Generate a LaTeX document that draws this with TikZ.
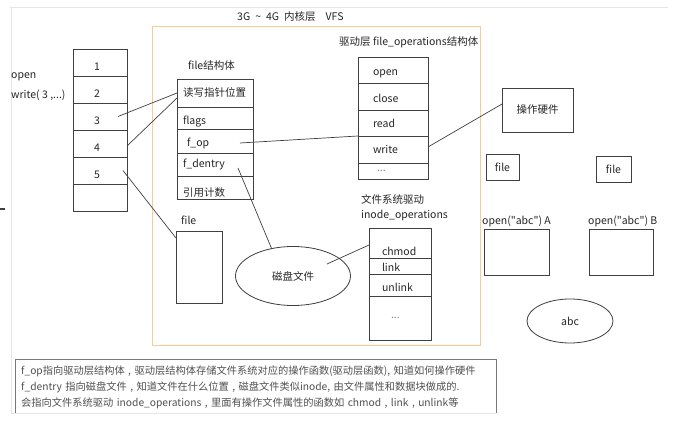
\documentclass[tikz,border=0pt]{standalone}
\usepackage{fontspec}
\newfontfamily\cjkf{Noto Sans CJK SC}
\usetikzlibrary{shapes.geometric}
\definecolor{linec}{HTML}{404040}
\definecolor{txtc}{HTML}{262626}
\definecolor{orng}{HTML}{FFC896}
\definecolor{framec}{HTML}{E6E6E6}
\definecolor{notec}{HTML}{505050}
\newcommand\lowr[2]{\raisebox{-#1}[\height][\depth]{#2}}
\begin{document}
\begin{tikzpicture}[x=1pt,y=-1pt,
  font=\cjkf\fontsize{10.5}{12}\selectfont, text=txtc,
  box/.style={draw=linec, line width=0.8pt, inner sep=0pt, outer sep=0pt},
  fdcell/.style={box, anchor=north west, minimum width=54pt, minimum height=27pt, align=center},
  fscell/.style={box, anchor=north west, inner xsep=6pt, text width=64pt, align=left},
  focell/.style={box, anchor=north west, inner xsep=15pt, text width=40pt, align=left},
  incell/.style={box, anchor=north west, inner xsep=13pt, text width=36pt, align=left},
  plainbox/.style={box, anchor=north west},
  oval/.style={box, ellipse},
  lbl/.style={anchor=west, inner sep=0pt},
  conn/.style={draw=linec, line width=0.7pt}]
\useasboundingbox[fill=white] (0,0) rectangle (683,430);

% screenshot frame
\draw[framec, line width=0.8pt] (10,7) -- (668,7);
\draw[framec, line width=0.8pt] (11,7) -- (11,413);
\draw[framec, line width=0.6pt] (11,413) -- (496,413);
\draw[linec, line width=1.4pt] (0,209) -- (5,209);

% title and VFS frame
\node[lbl] (title) at (237,17) {3G\hspace{5pt}\textasciitilde\hspace{5pt}4G\hspace{5pt}内核层\hspace{10pt}VFS};
\draw[orng, line width=1pt] (152,27) rectangle (480,346);

% left labels
\node[lbl] (open) at (11,77) {open};
\node[lbl] (write) at (11,95) {write( 3 ,...)};

% fd table
\node[fdcell] (fd1) at (73,49)  {\lowr{4pt}{1}\hspace*{6pt}};
\node[fdcell] (fd2) at (73,76)  {\lowr{4pt}{2}\hspace*{6pt}};
\node[fdcell] (fd3) at (73,103) {\lowr{4pt}{3}\hspace*{6pt}};
\node[fdcell] (fd4) at (73,130) {\lowr{4pt}{4}\hspace*{6pt}};
\node[fdcell] (fd5) at (73,157) {\lowr{4pt}{5}\hspace*{6pt}};
\node[fdcell] (fd6) at (73,184) {};

% file struct
\node[lbl] (fslbl) at (188,66) {file结构体};
\node[fscell, minimum height=28pt] (fs1) at (177,79)  {读写指针位置};
\node[fscell, minimum height=22pt] (fs2) at (177,107) {\lowr{4pt}{flags}};
\node[fscell, minimum height=24pt] (fs3) at (177,129) {\lowr{2pt}{\hspace*{4pt}f\_op}};
\node[fscell, minimum height=23pt] (fs4) at (177,153) {f\_dentry};
\node[fscell, minimum height=23pt] (fs5) at (177,176) {\lowr{5pt}{引用计数}};

% file box
\node[lbl] (filelbl) at (181,220) {file};
\node[plainbox, minimum width=46pt, minimum height=72pt] (fileb) at (176,231) {};

% disk file ellipse
\node[oval, minimum width=115pt, minimum height=59pt] (disk) at (293,276) {磁盘文件};

% file_operations
\node[lbl] (folbl) at (339,42) {驱动层 file\_operations结构体};
\node[focell, minimum height=26pt] (fo1) at (358,57)  {\lowr{4pt}{open}};
\node[focell, minimum height=27pt] (fo2) at (358,83)  {\lowr{2pt}{close}};
\node[focell, minimum height=26pt] (fo3) at (358,110) {read};
\node[focell, minimum height=27pt] (fo4) at (358,136) {write};
\node[focell, minimum height=16pt] (fo5) at (358,163) {\hspace*{4pt}\textcolor{gray}{...}};

% hardware
\node[plainbox, minimum width=71pt, minimum height=44pt] (hw) at (502,88) {操作硬件};

% inode_operations
\node[lbl] (inlbl1) at (361,199) {文件系统驱动};
\node[lbl] (inlbl2) at (361,216) {inode\_operations};
\node[incell, minimum height=30pt] (in1) at (369,228) {\lowr{8pt}{chmod}};
\node[incell, minimum height=16pt] (in2) at (369,258) {\lowr{1pt}{link}};
\node[incell, minimum height=22pt] (in3) at (369,274) {\lowr{2pt}{unlink}};
\node[incell, minimum height=44pt] (in4) at (369,296) {\hspace*{9pt}\textcolor{gray}{...}};

% right side
\node[plainbox, minimum width=33pt, minimum height=26pt] (fA) at (486,154) {file};
\node[plainbox, minimum width=35pt, minimum height=26pt] (fB) at (596,156) {file};
\node[lbl] (oAl) at (482,221) {open("abc") A};
\node[lbl] (oBl) at (588,221) {open("abc") B};
\node[plainbox, minimum width=65pt, minimum height=46pt] (oA) at (484,229) {};
\node[plainbox, minimum width=64pt, minimum height=46pt] (oB) at (589,229) {};
\node[oval, minimum width=86pt, minimum height=44pt] (abc) at (570,321) {abc};

% connectors
\draw[conn] ([xshift=-9pt]fd3.east) -- (fs1.west);
\draw[conn] ([yshift=-2.5pt]fd4.east) -- ([yshift=-5pt]fs1.west);
\draw[conn] ([xshift=-4pt]fd5.east) -- ([yshift=-7pt]fileb.north west);
\draw[conn] ([xshift=-13pt,yshift=-2pt]fs3.east) -- (fo4.north west);
\draw[conn] ([xshift=-15pt,yshift=-3.5pt]fs4.east) -- (disk.128);
\draw[conn] ([xshift=34pt,yshift=12pt]disk.center) -- ([yshift=-2pt]in1.west);
\draw[conn] ([yshift=2.5pt]fo4.east) -- ([yshift=6pt]hw.west);

% note
\draw[linec!70, line width=0.9pt] (15,413) -- (15,359) -- (496,359) -- (496,413);
\node[anchor=north west, inner sep=0pt, text width=478pt, align=left,
      font=\cjkf\fontsize{10.25}{16}\selectfont, text=notec] (note) at (21,366)
 {f\_op指向驱动层结构体 , 驱动层结构体存储文件系统对应的操作函数(驱动层函数), 知道如何操作硬件\\
  f\_dentry 指向磁盘文件 , 知道文件在什么位置 , 磁盘文件类似inode, 由文件属性和数据块做成的.\\
  会指向文件系统驱动 inode\_operations , 里面有操作文件属性的函数如 chmod , link , unlink等};
\end{tikzpicture}
\end{document}
